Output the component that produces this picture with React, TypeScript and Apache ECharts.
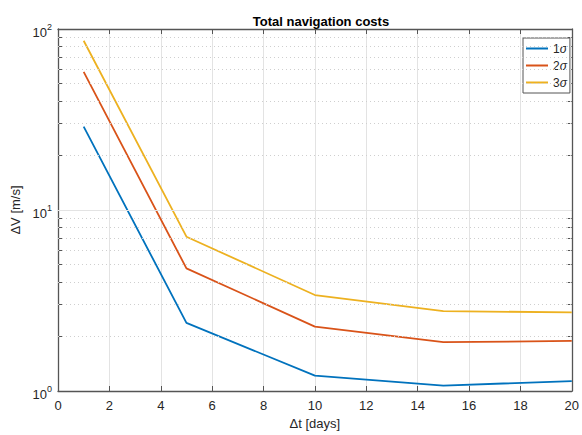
import React, { useEffect, useRef } from "react";
import * as echarts from "echarts";

const days = [1, 5, 10, 15, 20];
const sigma1 = [28.9, 2.38, 1.215, 1.07, 1.135];
const sigma2 = [57.9, 4.76, 2.27, 1.86, 1.89];
const sigma3 = [86.1, 7.12, 3.39, 2.76, 2.72];
const seriesNames = ["1σ", "2σ", "3σ"];
const colors = ["#0072BD", "#D95319", "#EDB120"];
const majorY = [1, 10, 100];
const minorY = [2, 3, 4, 5, 6, 7, 8, 9, 20, 30, 40, 50, 60, 70, 80, 90];
const allY = [1, 2, 3, 4, 5, 6, 7, 8, 9, 10, 20, 30, 40, 50, 60, 70, 80, 90, 100];

const FONT = "Liberation Sans, Arial, Helvetica, sans-serif";
const AX = "#262626";
const BOX = "#555555";

export default function App() {
  const ref = useRef<HTMLDivElement>(null);
  useEffect(() => {
    if (!ref.current) return;
    const chart = echarts.init(ref.current, undefined, { renderer: "svg" });
    const data = [sigma1, sigma2, sigma3];
    chart.setOption({
      animation: false,
      backgroundColor: "#ffffff",
      title: {
        text: "Total navigation costs",
        left: 316,
        top: 10,
        textAlign: "center",
        textStyle: { fontFamily: FONT, fontSize: 13, fontWeight: "bold", color: "#000" },
      },
      legend: {
        left: 523,
        top: 38,
        orient: "vertical",
        backgroundColor: "#fff",
        borderColor: BOX,
        borderWidth: 1,
        borderRadius: 0,
        padding: [3, 3, 3, 3],
        itemGap: 2,
        itemWidth: 22,
        itemHeight: 2,
        icon: "rect",
        data: seriesNames,
        formatter: (name: string) => `{n|${name.slice(0, 1)}}{g|σ}`,
        textStyle: {
          fontFamily: FONT,
          fontSize: 12,
          color: AX,
          lineHeight: 15,
          rich: {
            n: { fontFamily: FONT, fontSize: 12, color: AX },
            g: { fontFamily: FONT, fontSize: 12, fontStyle: "italic", color: AX },
          },
        },
      },
      grid: { left: 58, right: 9, top: 29, bottom: 44, containLabel: false },
      xAxis: [
        {
          type: "value",
          min: 0,
          max: 20,
          interval: 2,
          position: "bottom",
          name: "Δt [days]",
          nameLocation: "middle",
          nameGap: 26,
          nameTextStyle: { fontFamily: FONT, fontSize: 13, color: AX },
          axisLine: { show: true, onZero: false, lineStyle: { color: BOX, width: 1.3 } },
          axisTick: { show: true, inside: true, length: 5, lineStyle: { color: BOX } },
          axisLabel: { fontFamily: FONT, fontSize: 13, color: AX, margin: 8 },
          splitLine: { show: true, lineStyle: { color: "#e3e3e3", width: 1 } },
        },
        {
          type: "value",
          min: 0,
          max: 20,
          interval: 2,
          position: "top",
          axisLine: { show: true, onZero: false, lineStyle: { color: BOX, width: 1.3 } },
          axisTick: { show: true, inside: true, length: 5, lineStyle: { color: BOX } },
          axisLabel: { show: false },
          splitLine: { show: false },
        },
      ],
      yAxis: [
        {
          type: "log",
          logBase: 10,
          min: 1,
          max: 100,
          position: "left",
          name: "ΔV [m/s]",
          nameLocation: "middle",
          nameGap: 30,
          nameTextStyle: { fontFamily: FONT, fontSize: 13, color: AX },
          axisLine: { show: true, onZero: false, lineStyle: { color: BOX, width: 1.3 } },
          axisTick: { show: true, inside: true, length: 4, customValues: allY, lineStyle: { color: BOX } },
          axisLabel: {
            customValues: majorY,
            margin: 6,
            formatter: (v: number) => `{b|10}{s|${Math.round(Math.log10(v))}}`,
            rich: {
              b: { fontFamily: FONT, fontSize: 13, color: AX, padding: [6, 0, 0, 0] },
              s: { fontFamily: FONT, fontSize: 9, color: AX, padding: [0, 0, 4, 0] },
            },
          },
          splitLine: { show: false },
        },
        {
          type: "log",
          logBase: 10,
          min: 1,
          max: 100,
          position: "right",
          axisLine: { show: true, onZero: false, lineStyle: { color: BOX, width: 1.3 } },
          axisTick: { show: true, inside: true, length: 4, customValues: allY, lineStyle: { color: BOX } },
          axisLabel: { show: false },
          splitLine: { show: false },
        },
      ],
      series: [
        {
          type: "line",
          name: "__grid",
          data: [],
          silent: true,
          markLine: {
            silent: true,
            symbol: ["none", "none"],
            label: { show: false },
            animation: false,
            data: [
              ...minorY.map((v) => ({ yAxis: v, lineStyle: { type: [1, 3], color: "#cfcfcf", width: 1 } })),
              ...majorY.slice(1, 2).map((v) => ({ yAxis: v, lineStyle: { type: "solid", color: "#e3e3e3", width: 1 } })),
            ],
          },
        },
        ...seriesNames.map((name, i) => ({
          type: "line",
          name,
          data: days.map((d, j) => [d, data[i][j]]),
          showSymbol: false,
          symbol: "none",
          lineStyle: { color: colors[i], width: 1.8 },
          itemStyle: { color: colors[i] },
          z: 3,
        })),
      ],
    });
    return () => chart.dispose();
  }, []);
  return (
    <div
      ref={ref}
      style={{ position: "absolute", left: 0, top: 0, width: 582, height: 435 }}
    />
  );
}
